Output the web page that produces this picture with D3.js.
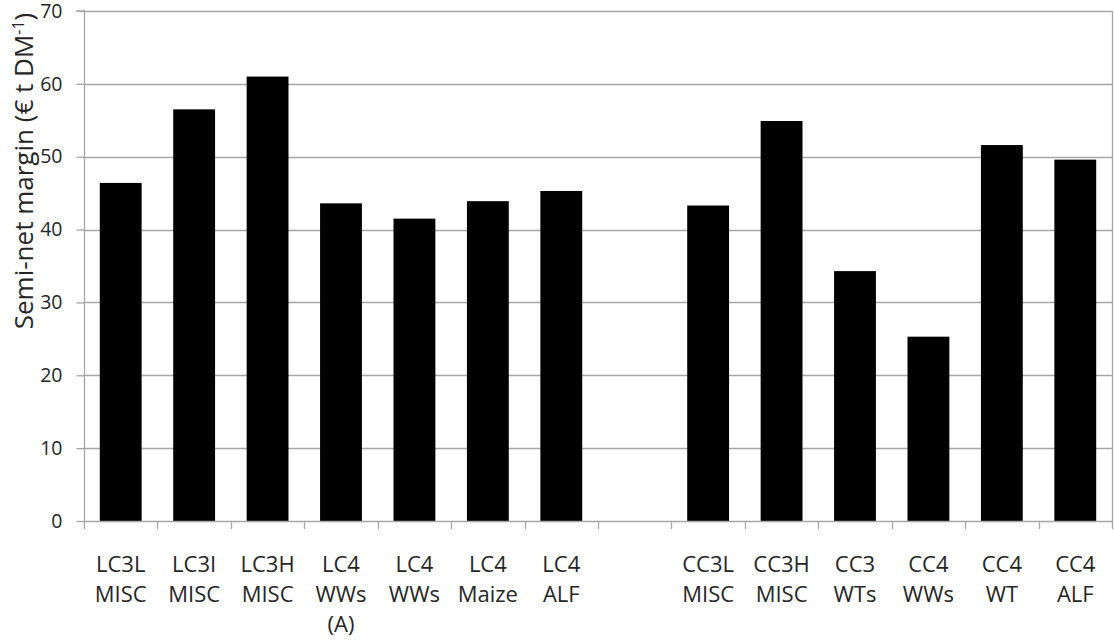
<!DOCTYPE html>
<html>
<head>
<meta charset="utf-8">
<script src="https://cdn.jsdelivr.net/npm/d3@7"></script>
<style>
  html, body { margin: 0; padding: 0; background: #fff; }
  svg { display: block; }
  text { font-family: "Open Sans", "Liberation Sans", sans-serif; }
</style>
</head>
<body>
<svg id="chart" width="1114" height="644"></svg>
<script>
// ---- data ----
const categories = [
  "LC3L MISC", "LC3I MISC", "LC3H MISC", "LC4 WWs (A)", "LC4 WWs", "LC4 Maize", "LC4 ALF",
  "gap",
  "CC3L MISC", "CC3H MISC", "CC3 WTs", "CC4 WWs", "CC4 WT", "CC4 ALF"
];
const labelLines = [
  ["LC3L", "MISC"], ["LC3I", "MISC"], ["LC3H", "MISC"], ["LC4", "WWs", "(A)"], ["LC4", "WWs"], ["LC4", "Maize"], ["LC4", "ALF"],
  [],
  ["CC3L", "MISC"], ["CC3H", "MISC"], ["CC3", "WTs"], ["CC4", "WWs"], ["CC4", "WT"], ["CC4", "ALF"]
];
const values = [46.4, 56.5, 61.0, 43.6, 41.5, 43.9, 45.3, null, 43.3, 54.9, 34.3, 25.3, 51.6, 49.6];
const yTicks = [0, 10, 20, 30, 40, 50, 60, 70];
const yTitle = "Semi-net margin (€ t DM";

// ---- layout ----
const svg = d3.select("#chart");
const pL = 84, pR = 1112, pT = 11, pB = 521;

const x = d3.scaleBand().domain(categories).range([pL, pR]).paddingInner(0.43).paddingOuter(0.215);
const xTicks = d3.scaleBand().domain(categories).range([pL, pR]).padding(0);
const y = d3.scaleLinear().domain([0, 70]).range([pB, pT]);

const gridColor = "#a6a6a6";
const textColor = "#262626";

// gridlines
svg.append("g").selectAll("line").data(yTicks.filter(d => d > 0)).join("line")
  .attr("x1", pL).attr("x2", pR)
  .attr("y1", d => Math.round(y(d)) + 0.5).attr("y2", d => Math.round(y(d)) + 0.5)
  .attr("stroke", gridColor).attr("stroke-width", 1.3);

// right border line
svg.append("line").attr("x1", pR + 0.5).attr("x2", pR + 0.5)
  .attr("y1", pT).attr("y2", pB).attr("stroke", gridColor).attr("stroke-width", 1.3);

// bars
svg.append("g").selectAll("rect").data(categories.map((c, i) => ({c, v: values[i]})).filter(d => d.v != null))
  .join("rect")
  .attr("x", d => x(d.c)).attr("width", x.bandwidth())
  .attr("y", d => y(d.v)).attr("height", d => y(0) - y(d.v))
  .attr("fill", "#000");

// y axis
const yAxis = d3.axisLeft(y).tickValues(yTicks).tickSize(8).tickPadding(14).tickFormat(d3.format("d"));
const gy = svg.append("g").attr("transform", `translate(${pL + 0.5},0)`).call(yAxis);
gy.select(".domain").attr("stroke", gridColor).attr("stroke-width", 1.3).attr("d", `M-8,${pT}H0V${pB}`);
gy.selectAll(".tick line").attr("stroke", gridColor).attr("stroke-width", 1.3);
gy.selectAll(".tick text").attr("fill", textColor).style("font-size", "19.5px").style("font-family", "'Open Sans', sans-serif");

// x axis line and ticks at band boundaries
const bounds = categories.map(c => xTicks(c)).concat([pR]);
svg.append("line").attr("x1", pL).attr("x2", pR)
  .attr("y1", pB + 0.5).attr("y2", pB + 0.5).attr("stroke", gridColor).attr("stroke-width", 1.3);
svg.append("g").selectAll("line").data(bounds).join("line")
  .attr("x1", d => Math.round(d) + 0.5).attr("x2", d => Math.round(d) + 0.5)
  .attr("y1", pB).attr("y2", pB + 8)
  .attr("stroke", gridColor).attr("stroke-width", 1.3);

// x labels
const lg = svg.append("g");
categories.forEach((c, i) => {
  const cx = xTicks(c) + xTicks.bandwidth() / 2;
  labelLines[i].forEach((t, j) => {
    lg.append("text").attr("x", cx).attr("y", 572 + j * 30)
      .attr("text-anchor", "middle").attr("fill", textColor)
      .style("font-size", "22px").text(t);
  });
});

// y title
const yt = svg.append("text")
  .attr("transform", `translate(33,171) rotate(-90)`)
  .attr("text-anchor", "middle").attr("fill", textColor).style("font-size", "26px");
yt.append("tspan").text(yTitle);
yt.append("tspan").attr("dy", -9).style("font-size", "16px").text("-1");
yt.append("tspan").attr("dy", 9).text(")");
</script>
</body>
</html>
